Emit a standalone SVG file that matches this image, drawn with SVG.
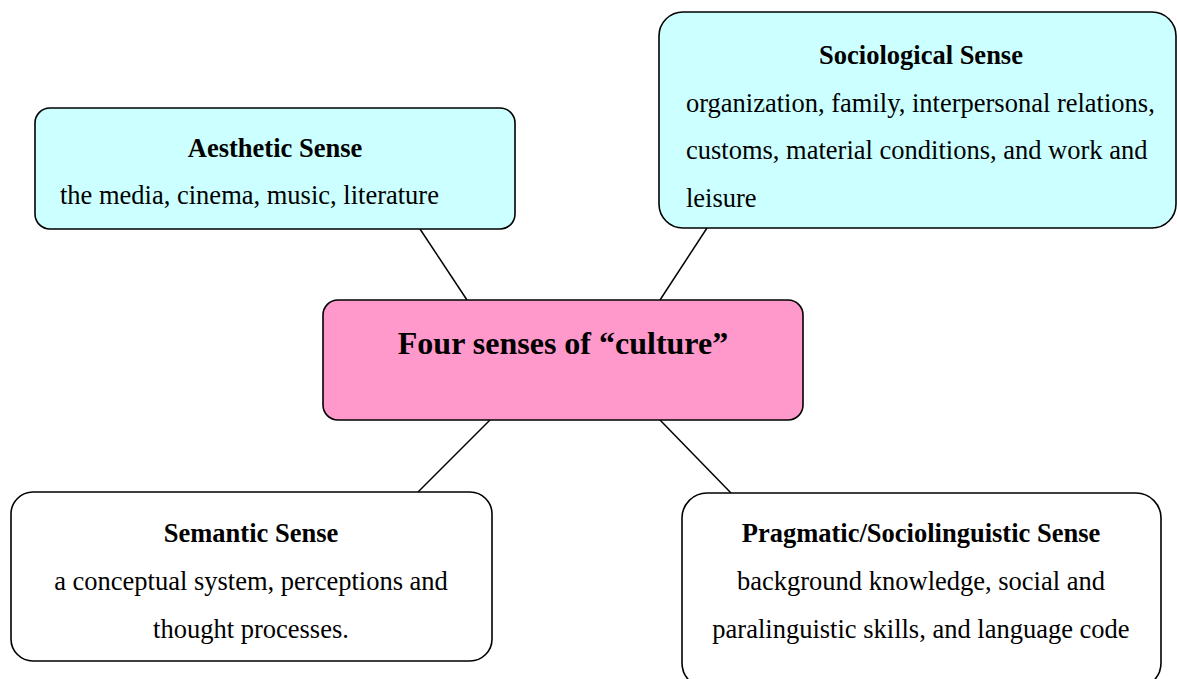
<svg xmlns="http://www.w3.org/2000/svg" width="1177" height="679" viewBox="0 0 1177 679">
<style>
.box{stroke:#000;stroke-width:1.6}
.cyan{fill:#CCFFFF}
.pink{fill:#FF99CC}
.white{fill:#FFFFFF}
text{font-family:"Liberation Serif","Times New Roman",serif;fill:#000;font-size:26.5px}
.t{font-weight:bold}
.c{text-anchor:middle}
.main{font-weight:bold;font-size:32px}
.conn line{stroke:#000;stroke-width:1.5}
</style>
<rect width="1177" height="679" fill="#FFFFFF"/>
<g id="connectors" class="conn">
<line x1="420" y1="229" x2="467" y2="300"/>
<line x1="707" y1="228" x2="660" y2="300"/>
<line x1="490" y1="420" x2="418" y2="492"/>
<line x1="660" y1="420" x2="731" y2="493"/>
</g>
<g id="aesthetic">
<rect class="box cyan" x="35" y="108" width="480" height="121" rx="15" ry="15"/>
<text class="t c" x="275" y="157">Aesthetic Sense</text>
<text x="60" y="204">the media, cinema, music, literature</text>
</g>
<g id="sociological">
<rect class="box cyan" x="659" y="12" width="517" height="216" rx="24" ry="24"/>
<text class="t c" x="921" y="64">Sociological Sense</text>
<text x="686" y="112">organization, family, interpersonal relations,</text>
<text x="686" y="159">customs, material conditions, and work and</text>
<text x="686" y="207">leisure</text>
</g>
<g id="center">
<rect class="box pink" x="323" y="300" width="480" height="120" rx="15" ry="15"/>
<text class="main c" x="563" y="354">Four senses of “culture”</text>
</g>
<g id="semantic">
<rect class="box white" x="11" y="492" width="481" height="169" rx="22" ry="22"/>
<text class="t c" x="251" y="542">Semantic Sense</text>
<text class="c" x="251" y="590">a conceptual system, perceptions and</text>
<text class="c" x="251" y="638">thought processes.</text>
</g>
<g id="pragmatic">
<rect class="box white" x="682" y="493" width="479" height="195" rx="25" ry="25"/>
<text class="t c" x="921" y="542">Pragmatic/Sociolinguistic Sense</text>
<text class="c" x="921" y="590">background knowledge, social and</text>
<text class="c" x="921" y="638">paralinguistic skills, and language code</text>
</g>
</svg>
